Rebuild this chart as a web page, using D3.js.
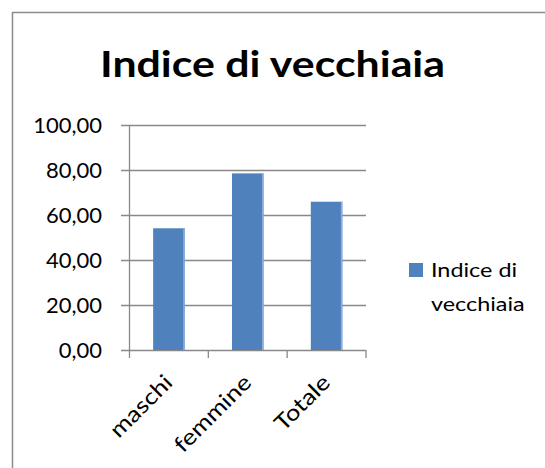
<!DOCTYPE html>
<html>
<head>
<meta charset="utf-8">
<script src="https://cdn.jsdelivr.net/npm/d3@7"></script>
<style>
    body { margin: 0; background: #fff; }
    svg text { font-family: Lato, Carlito, 'Open Sans', sans-serif; fill: #000; }
</style>
</head>
<body>
<div id="chart"></div>
<script>
// chart data
let categories = ['maschi', 'femmine', 'Totale'];
let values = [54.1, 78.5, 65.9];
let yTicks = [0, 20, 40, 60, 80, 100];
let seriesName = 'Indice di vecchiaia';
let legendLines = ['Indice di', 'vecchiaia'];

let width = 545,
    height = 468;

let svg = d3.select('#chart')
    .append('svg')
    .attr('width', width)
    .attr('height', height);

// outer chart border (cropped on the right and bottom)
svg.append('rect')
    .attr('x', 12.5)
    .attr('y', 12.5)
    .attr('width', 600)
    .attr('height', 600)
    .attr('fill', 'none')
    .attr('stroke', '#8c8c8c')
    .attr('stroke-width', 1.5);

// title, stretched a bit to match the wider original font
svg.append('text')
    .attr('x', 100)
    .attr('y', 77)
    .attr('textLength', 345)
    .attr('lengthAdjust', 'spacingAndGlyphs')
    .style('font-size', '37px')
    .style('font-weight', 'bold')
    .text(seriesName);

let x = d3.scaleBand()
    .domain(categories)
    .range([129.5, 366])
    .paddingInner(0.6)
    .paddingOuter(0.3);

let y = d3.scaleLinear()
    .domain([0, 100])
    .range([350, 125]);

let gridColor = '#898989';

// horizontal gridlines with left ticks
svg.append('g')
    .selectAll('line.grid')
    .data(yTicks)
    .enter()
    .append('line')
    .attr('class', 'grid')
    .attr('x1', 121)
    .attr('x2', 366)
    .attr('y1', d => y(d) + 0.5)
    .attr('y2', d => y(d) + 0.5)
    .attr('stroke', gridColor)
    .attr('stroke-width', 1.3);

// y axis line
svg.append('line')
    .attr('x1', 129.5)
    .attr('x2', 129.5)
    .attr('y1', y(100))
    .attr('y2', 358)
    .attr('stroke', gridColor)
    .attr('stroke-width', 1.3);

// category ticks below x axis (band edges)
let step = x.step();
let boundaries = categories.map(c => x(c) + x.bandwidth() / 2 + step / 2);
svg.append('g')
    .selectAll('line.xtick')
    .data(boundaries)
    .enter()
    .append('line')
    .attr('class', 'xtick')
    .attr('x1', d => d)
    .attr('x2', d => d)
    .attr('y1', 350)
    .attr('y2', 358)
    .attr('stroke', gridColor)
    .attr('stroke-width', 1.3);

// y tick labels
svg.append('g')
    .selectAll('text.ylab')
    .data(yTicks)
    .enter()
    .append('text')
    .attr('class', 'ylab')
    .attr('x', 102)
    .attr('y', d => y(d) + 8)
    .attr('text-anchor', 'end')
    .style('font-size', '22px')
    .text(d => d3.format('.2f')(d).replace('.', ','));

// bars
let bars = svg.append('g')
    .selectAll('g.bar')
    .data(values)
    .enter()
    .append('g')
    .attr('class', 'bar');

bars.append('rect')
    .attr('x', (d, i) => x(categories[i]))
    .attr('y', d => y(d))
    .attr('width', x.bandwidth())
    .attr('height', d => y(0) - y(d))
    .attr('fill', '#4f81bd');

// light right edge like the excel bevel
bars.append('rect')
    .attr('x', (d, i) => x(categories[i]) + x.bandwidth() - 1.5)
    .attr('y', d => y(d))
    .attr('width', 1.5)
    .attr('height', d => y(0) - y(d))
    .attr('fill', '#8db0dc');

// rotated category labels
svg.append('g')
    .selectAll('text.xlab')
    .data(categories)
    .enter()
    .append('text')
    .attr('class', 'xlab')
    .attr('text-anchor', 'end')
    .attr('transform', d => 'translate(' + (x(d) + x.bandwidth() / 2 + 5) + ',384) rotate(-45) scale(1.17,1)')
    .style('font-size', '22px')
    .text(d => d);

// legend
let legend = svg.append('g')
    .attr('transform', 'translate(409,263)');

legend.append('rect')
    .attr('width', 14)
    .attr('height', 14)
    .attr('fill', '#4f81bd');

legend.selectAll('text')
    .data(legendLines)
    .enter()
    .append('text')
    .attr('transform', (d, i) => 'translate(22,' + (14 + i * 34) + ') scale(1.17,1)')
    .style('font-size', '20px')
    .text(d => d);
</script>
</body>
</html>
